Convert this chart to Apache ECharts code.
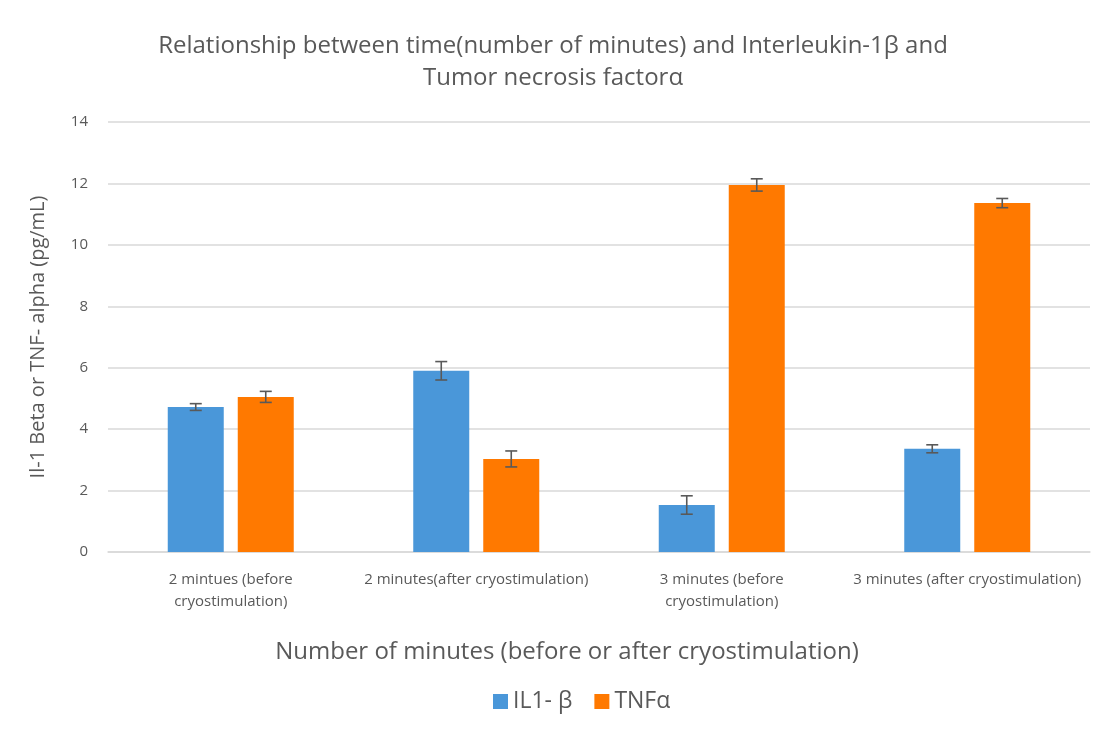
<!DOCTYPE html>
<html>
<head>
<meta charset="utf-8">
<script src="https://cdn.jsdelivr.net/npm/echarts@6/dist/echarts.min.js"></script>
<style>
  html, body { margin: 0; padding: 0; background: #fff; }
  #mainChart { width: 1106px; height: 740px; }
</style>
</head>
<body>
<div id="mainChart"></div>
<script>
// data
var categories = ['2 mintues (before\ncryostimulation)', '2 minutes(after cryostimulation)', '3 minutes (before\ncryostimulation)', '3 minutes (after cryostimulation)'];
var il1Values = [4.72, 5.9, 1.53, 3.36];
var il1Errors = [0.11, 0.3, 0.3, 0.13];
var tnfValues = [5.05, 3.03, 11.95, 11.36];
var tnfErrors = [0.18, 0.26, 0.2, 0.15];
var yTicks = [0, 2, 4, 6, 8, 10, 12, 14];

var textColor = '#595959';
var fontName = '"Open Sans", "Noto Sans", sans-serif';

var barW = 56;
var barGap = 14;

function errorData(values, errors) {
    var out = [];
    for (var i = 0; i < values.length; i++) {
        out.push([i, values[i] - errors[i], values[i] + errors[i]]);
    }
    return out;
}

// 误差线
function makeErrorSeries(name, data, shift) {
    return {
        name: name,
        type: 'custom',
        z: 10,
        data: data,
        renderItem: function (params, api) {
            var lo = api.coord([api.value(0), api.value(1)]);
            var hi = api.coord([api.value(0), api.value(2)]);
            var x = lo[0] + shift;
            var half = 6;
            var style = { stroke: '#595959', lineWidth: 1.6 };
            return {
                type: 'group',
                children: [
                    { type: 'line', shape: { x1: x, y1: hi[1], x2: x, y2: lo[1] }, style: style },
                    { type: 'line', shape: { x1: x - half, y1: hi[1], x2: x + half, y2: hi[1] }, style: style },
                    { type: 'line', shape: { x1: x - half, y1: lo[1], x2: x + half, y2: lo[1] }, style: style }
                ]
            };
        }
    };
}

var myChart = echarts.init(document.getElementById('mainChart'));

var option = {
    backgroundColor: '#fff',
    animation: false,
    title: {
        text: 'Relationship between time(number of minutes) and Interleukin-1β and\nTumor necrosis factorα',
        left: 'center',
        top: 25,
        padding: [5, 0, 5, 18],
        textStyle: {
            color: textColor,
            fontFamily: fontName,
            fontWeight: 'normal',
            fontSize: 24,
            lineHeight: 32
        }
    },
    legend: {
        bottom: 22,
        left: 488,
        itemWidth: 15,
        itemHeight: 15,
        itemGap: 22,
        data: [{ name: 'IL1- β', icon: 'rect' }, { name: 'TNFα', icon: 'rect' }],
        textStyle: { color: textColor, fontFamily: fontName, fontSize: 23 }
    },
    grid: {
        left: 108,
        right: 16,
        top: 122,
        bottom: 188
    },
    xAxis: {
        type: 'category',
        data: categories,
        name: 'Number of minutes (before or after cryostimulation)',
        nameLocation: 'middle',
        nameGap: 88,
        nameTextStyle: {
            color: textColor,
            fontFamily: fontName,
            fontSize: 24,
            padding: [0, 64, 0, 0]
        },
        axisLine: { lineStyle: { color: '#d9d9d9', width: 1.5 } },
        axisTick: { show: false },
        axisLabel: {
            color: textColor,
            fontFamily: fontName,
            fontSize: 15,
            lineHeight: 22,
            margin: 17,
            interval: 0
        }
    },
    yAxis: {
        type: 'value',
        min: yTicks[0],
        max: yTicks[yTicks.length - 1],
        interval: 2,
        name: 'Il-1 Beta or TNF- alpha (pg/mL)',
        nameLocation: 'middle',
        nameGap: 60,
        nameTextStyle: { color: textColor, fontFamily: fontName, fontSize: 20 },
        axisLine: { show: false },
        axisTick: { show: false },
        axisLabel: { color: textColor, fontFamily: fontName, fontSize: 15, margin: 20 },
        splitLine: { lineStyle: { color: '#d9d9d9', width: 1.5 } }
    },
    series: [{
        name: 'IL1- β',
        type: 'bar',
        barWidth: barW,
        barGap: (barGap / barW * 100) + '%',
        itemStyle: { color: '#4a97d9' },
        data: il1Values
    }, {
        name: 'TNFα',
        type: 'bar',
        barWidth: barW,
        itemStyle: { color: '#ff7900' },
        data: tnfValues
    },
    makeErrorSeries('IL1- β', errorData(il1Values, il1Errors), -(barW + barGap) / 2),
    makeErrorSeries('TNFα', errorData(tnfValues, tnfErrors), (barW + barGap) / 2)
    ]
};

myChart.setOption(option);
</script>
</body>
</html>
